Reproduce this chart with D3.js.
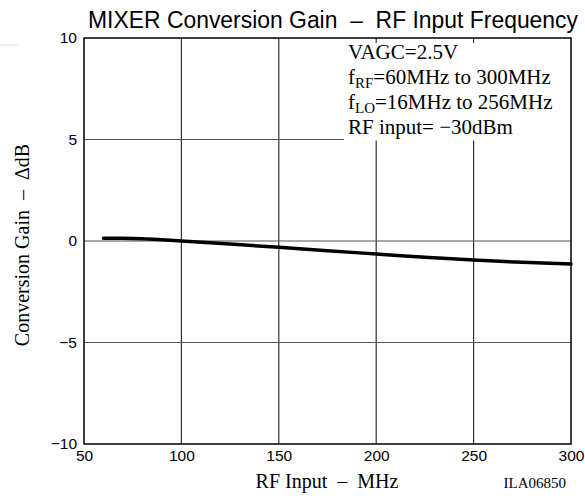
<!DOCTYPE html>
<html>
<head>
<meta charset="utf-8">
<script src="https://cdn.jsdelivr.net/npm/d3@7"></script>
<style>
  body { margin: 0; background: #fff; }
  svg { display: block; }
  text { white-space: pre; }
  .tick text { font-family: "Liberation Sans", Arial, sans-serif; font-size: 15.5px; fill: #000; }
  .serif { font-family: "Liberation Serif", "Times New Roman", serif; fill: #000; }
</style>
</head>
<body>
<svg id="graph" width="585" height="496"></svg>
<script>
    // data
    var freqMHz = [60, 70, 80, 90, 100, 125, 150, 175, 200, 225, 250, 275, 300];
    var gainDb  = [0.13, 0.13, 0.11, 0.06, 0.0, -0.15, -0.31, -0.48, -0.64, -0.8, -0.94, -1.05, -1.13];
    var xTicks = [50, 100, 150, 200, 250, 300];
    var yTicks = [-10, -5, 0, 5, 10];
    var notes = [
        { main: "VAGC=2.5V" },
        { main: "f", sub: "RF", rest: "=60MHz to 300MHz" },
        { main: "f", sub: "LO", rest: "=16MHz to 256MHz" },
        { main: "RF input= \u221230dBm" }
    ];

    var margin = { top: 38, right: 14, bottom: 52, left: 84 },
        width = 585 - margin.left - margin.right,
        height = 496 - margin.top - margin.bottom;

    var svg = d3.select("#graph");

    var graph = svg.append("g")
        .attr("transform", "translate(" + margin.left + "," + margin.top + ")");

    var x = d3.scaleLinear().domain([50, 300]).range([0, width]),
        y = d3.scaleLinear().domain([-10, 10]).range([height, 0]);

    // grid
    graph.selectAll(".vgrid")
        .data(xTicks.slice(1, -1))
        .enter().append("line")
        .attr("x1", function (d) { return x(d); })
        .attr("x2", function (d) { return x(d); })
        .attr("y1", 0).attr("y2", height)
        .attr("stroke", "#333").attr("stroke-width", 1.2);

    graph.selectAll(".hgrid")
        .data(yTicks.slice(1, -1))
        .enter().append("line")
        .attr("x1", 0).attr("x2", width)
        .attr("y1", function (d) { return y(d); })
        .attr("y2", function (d) { return y(d); })
        .attr("stroke", "#555").attr("stroke-width", 1.2);

    // white box behind the notes
    graph.append("rect")
        .attr("x", 260).attr("y", 5)
        .attr("width", width - 260).attr("height", y(5) - 4)
        .attr("fill", "#fff");

    // frame
    graph.append("rect")
        .attr("width", width).attr("height", height)
        .attr("fill", "none").attr("stroke", "#000").attr("stroke-width", 1.5);

    // axes, labels only
    var fmt = function (d) { return d < 0 ? "\u2212" + Math.abs(d) : d; };
    graph.append("g")
        .attr("transform", "translate(0," + height + ")")
        .call(d3.axisBottom(x).tickValues(xTicks).tickSize(0).tickPadding(6).tickFormat(fmt))
        .call(function (g) { g.select(".domain").remove(); });

    graph.append("g")
        .call(d3.axisLeft(y).tickValues(yTicks).tickSize(0).tickPadding(7).tickFormat(fmt))
        .call(function (g) { g.select(".domain").remove(); });

    // curve
    var line = d3.line()
        .curve(d3.curveMonotoneX)
        .x(function (d, i) { return x(freqMHz[i]); })
        .y(function (d) { return y(d); });

    graph.append("path")
        .datum(gainDb)
        .attr("d", line)
        .attr("fill", "none")
        .attr("stroke", "#000")
        .attr("stroke-width", 3.5)
        .attr("stroke-linecap", "round");

    // notes
    notes.forEach(function (n, i) {
        var t = graph.append("text")
            .attr("class", "serif")
            .attr("x", 264)
            .attr("y", 21 + i * 25)
            .style("font-size", "21px");
        t.append("tspan").text(n.main);
        if (n.sub) {
            t.append("tspan").attr("dy", 4).style("font-size", "15px").text(n.sub);
            t.append("tspan").attr("dy", -4).text(n.rest);
        }
    });

    // title, a bit condensed like the scan
    svg.append("text")
        .attr("transform", "translate(88,28) scale(1,1.12)")
        .attr("textLength", 490)
        .attr("lengthAdjust", "spacingAndGlyphs")
        .style("font-family", "'Liberation Sans Narrow', 'Liberation Sans', Arial, sans-serif")
        .style("font-size", "22px")
        .text("MIXER Conversion Gain  \u2013  RF Input Frequency");

    // axis titles
    svg.append("text")
        .attr("class", "serif")
        .attr("x", 327).attr("y", 488)
        .attr("text-anchor", "middle")
        .style("font-size", "20px")
        .text("RF Input  \u2013  MHz");

    svg.append("text")
        .attr("class", "serif")
        .attr("transform", "translate(29," + (margin.top + height / 2 + 4) + ") rotate(-90)")
        .attr("text-anchor", "middle")
        .style("font-size", "20px")
        .text("Conversion Gain  \u2013  \u0394dB");

    svg.append("text")
        .attr("class", "serif")
        .attr("x", 566).attr("y", 488)
        .attr("text-anchor", "end")
        .style("font-size", "15px")
        .text("ILA06850");

    // faint stray rule at top left of the scan
    svg.append("line")
        .attr("x1", 0).attr("x2", 19).attr("y1", 45).attr("y2", 45)
        .attr("stroke", "#ddd").attr("stroke-width", 1);
</script>
</body>
</html>
